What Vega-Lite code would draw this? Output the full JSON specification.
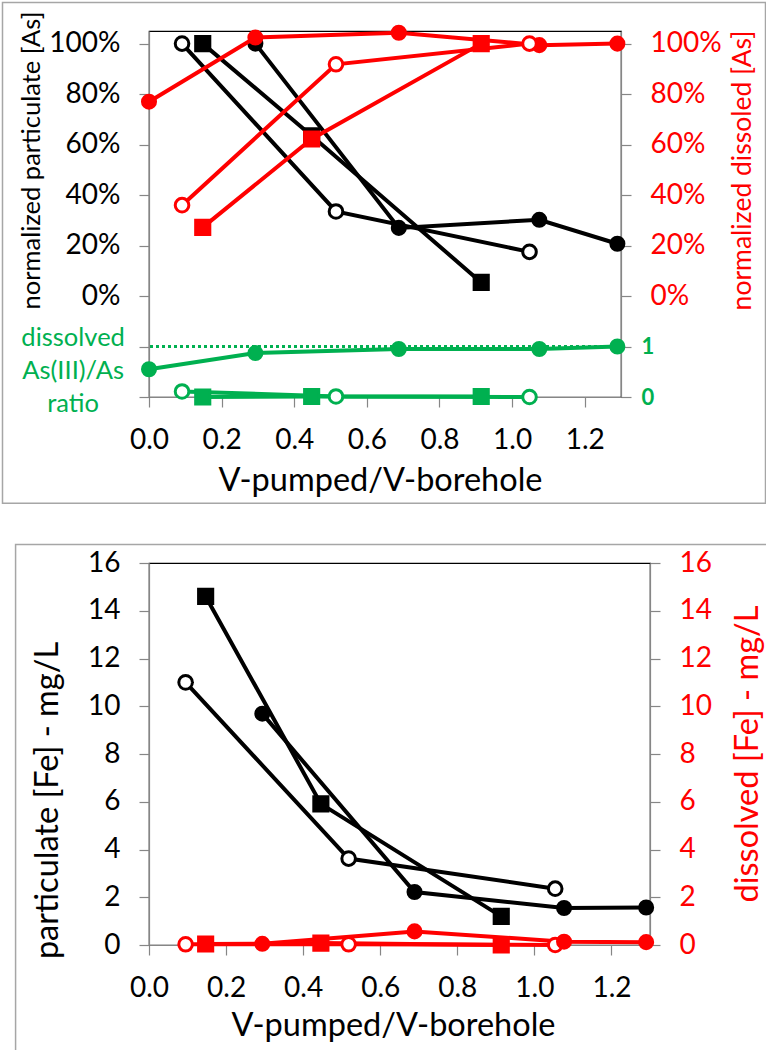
{
  "$schema": "https://vega.github.io/schema/vega-lite/v6.json",
  "padding": {"left": 1, "top": 1, "right": 0, "bottom": 0},
  "background": "white",
  "config": {
    "font": "Lato",
    "view": {"stroke": "#000000", "strokeWidth": 1.2},
    "axis": {"grid": false, "domainColor": "#868686", "tickColor": "#868686", "domainWidth": 1.2, "tickWidth": 1.2, "tickSize": 10, "labelFont": "Lato", "labelFontSize": 28, "labelColor": "#000000", "labelPadding": 19, "titleFont": "Lato", "titleFontWeight": "normal", "labelFlush": false, "labelOverlap": false}
  },
  "datasets": {
    "top": [
      {"x": 0, "m": "filled", "part": null, "diss": 77, "ratio": 0.55},
      {"x": 0.293, "m": "filled", "part": 100, "diss": 102.4, "ratio": 0.87},
      {"x": 0.688, "m": "filled", "part": 27, "diss": 104.3, "ratio": 0.95},
      {"x": 1.075, "m": "filled", "part": 30.2, "diss": 99.4, "ratio": 0.95},
      {"x": 1.29, "m": "filled", "part": 20.7, "diss": 100, "ratio": 1.0},
      {"x": 0.091, "m": "open", "part": 100, "diss": 36, "ratio": 0.11},
      {"x": 0.515, "m": "open", "part": 33.5, "diss": 91.8, "ratio": 0.01},
      {"x": 1.048, "m": "open", "part": 17.5, "diss": 100, "ratio": 0.0},
      {"x": 0.148, "m": "square", "part": 100, "diss": 27.2, "ratio": 0.0},
      {"x": 0.448, "m": "square", "part": 63.5, "diss": 62.2, "ratio": 0.01},
      {"x": 0.915, "m": "square", "part": 5.4, "diss": 100, "ratio": 0.01}
    ],
    "bottom": [
      {"x": 0.095, "m": "open", "part": 11.0, "diss": 0.03},
      {"x": 0.518, "m": "open", "part": 3.62, "diss": 0.03},
      {"x": 1.054, "m": "open", "part": 2.36, "diss": 0.0},
      {"x": 0.147, "m": "square", "part": 14.6, "diss": 0.04},
      {"x": 0.446, "m": "square", "part": 5.91, "diss": 0.08},
      {"x": 0.914, "m": "square", "part": 1.2, "diss": 0.0},
      {"x": 0.294, "m": "filled", "part": 9.69, "diss": 0.05},
      {"x": 0.689, "m": "filled", "part": 2.22, "diss": 0.57},
      {"x": 1.077, "m": "filled", "part": 1.55, "diss": 0.14},
      {"x": 1.29, "m": "filled", "part": 1.57, "diss": 0.12}
    ]
  },
  "spacing": 38,
  "vconcat": [
    {
      "width": 472,
      "height": 366,
      "data": {"name": "top"},
      "layer": [
        {
          "layer": [
            {
              "data": {"values": [{"frame": "panel"}]},
              "mark": {"type": "rect", "fill": "white", "fillOpacity": 0, "stroke": "#a6a6a6", "strokeWidth": 1.5, "clip": false},
              "encoding": {
                "x": {"datum": -0.4035, "type": "quantitative", "scale": {"domain": [0, 1.3], "nice": false, "zero": false}, "title": "V-pumped/V-borehole", "axis": {"values": [0, 0.2, 0.4, 0.6, 0.8, 1, 1.2], "format": ".1f", "titleFontSize": 32.5, "titleX": 231, "titleY": 83, "titleBaseline": "middle", "titleAlign": "center"}},
                "x2": {"datum": 1.698},
                "y": {"datum": 116.3, "type": "quantitative", "scale": {"domain": [-40, 105], "nice": false, "zero": false}, "title": "normalized particulate [As]", "axis": {"orient": "left", "values": [-40, -20, 0, 20, 40, 60, 80, 100], "labelExpr": "datum.value >= 0 ? datum.value + '%' : ''", "titleFontSize": 25.5, "titleAngle": 270, "titleX": -118, "titleY": 129, "titleBaseline": "middle", "titleAlign": "center", "titleColor": "#000000"}},
                "y2": {"datum": -82.1}
              }
            },
            {
              "mark": {"type": "line", "color": "#000000", "strokeWidth": 4},
              "encoding": {
                "x": {"field": "x", "type": "quantitative", "scale": {"domain": [0, 1.3], "nice": false, "zero": false}, "title": "V-pumped/V-borehole", "axis": {"values": [0, 0.2, 0.4, 0.6, 0.8, 1, 1.2], "format": ".1f", "titleFontSize": 32.5, "titleX": 231, "titleY": 83, "titleBaseline": "middle", "titleAlign": "center"}},
                "y": {"field": "part", "type": "quantitative", "scale": {"domain": [-40, 105], "nice": false, "zero": false}, "title": "normalized particulate [As]", "axis": {"orient": "left", "values": [-40, -20, 0, 20, 40, 60, 80, 100], "labelExpr": "datum.value >= 0 ? datum.value + '%' : ''", "titleFontSize": 25.5, "titleAngle": 270, "titleX": -118, "titleY": 129, "titleBaseline": "middle", "titleAlign": "center", "titleColor": "#000000"}},
                "detail": {"field": "m"},
                "order": {"field": "x", "type": "quantitative"}
              }
            },
            {
              "mark": {"type": "point", "strokeWidth": 3, "opacity": 1, "filled": true},
              "encoding": {
                "x": {"field": "x", "type": "quantitative", "scale": {"domain": [0, 1.3], "nice": false, "zero": false}, "title": "V-pumped/V-borehole", "axis": {"values": [0, 0.2, 0.4, 0.6, 0.8, 1, 1.2], "format": ".1f", "titleFontSize": 32.5, "titleX": 231, "titleY": 83, "titleBaseline": "middle", "titleAlign": "center"}},
                "y": {"field": "part", "type": "quantitative", "scale": {"domain": [-40, 105], "nice": false, "zero": false}, "title": "normalized particulate [As]", "axis": {"orient": "left", "values": [-40, -20, 0, 20, 40, 60, 80, 100], "labelExpr": "datum.value >= 0 ? datum.value + '%' : ''", "titleFontSize": 25.5, "titleAngle": 270, "titleX": -118, "titleY": 129, "titleBaseline": "middle", "titleAlign": "center", "titleColor": "#000000"}},
                "shape": {"field": "m", "type": "nominal", "scale": {"domain": ["filled", "open", "square"], "range": ["circle", "circle", "square"]}, "legend": null},
                "size": {"field": "m", "type": "nominal", "scale": {"domain": ["filled", "open", "square"], "range": [170, 200, 180]}, "legend": null},
                "fill": {"condition": {"test": "datum.m === 'open'", "value": "#ffffff"}, "value": "#000000"},
                "stroke": {"value": "#000000"}
              }
            },
            {
              "data": {"values": [{"label": "dissolved\nAs(III)/As\nratio"}]},
              "mark": {"type": "text", "color": "#00b050", "fontSize": 25.5, "lineBreak": "\n", "lineHeight": 33, "align": "center", "baseline": "middle", "clip": false},
              "encoding": {
                "x": {"datum": -0.209, "type": "quantitative", "scale": {"domain": [0, 1.3], "nice": false, "zero": false}, "title": "V-pumped/V-borehole", "axis": {"values": [0, 0.2, 0.4, 0.6, 0.8, 1, 1.2], "format": ".1f", "titleFontSize": 32.5, "titleX": 231, "titleY": 83, "titleBaseline": "middle", "titleAlign": "center"}},
                "y": {"datum": -16.6, "type": "quantitative", "scale": {"domain": [-40, 105], "nice": false, "zero": false}, "title": "normalized particulate [As]", "axis": {"orient": "left", "values": [-40, -20, 0, 20, 40, 60, 80, 100], "labelExpr": "datum.value >= 0 ? datum.value + '%' : ''", "titleFontSize": 25.5, "titleAngle": 270, "titleX": -118, "titleY": 129, "titleBaseline": "middle", "titleAlign": "center", "titleColor": "#000000"}},
                "text": {"field": "label"}
              }
            }
          ]
        },
        {
          "layer": [
            {
              "mark": {"type": "line", "color": "#ff0000", "strokeWidth": 4},
              "encoding": {
                "x": {"field": "x", "type": "quantitative", "scale": {"domain": [0, 1.3], "nice": false, "zero": false}, "title": "V-pumped/V-borehole", "axis": {"values": [0, 0.2, 0.4, 0.6, 0.8, 1, 1.2], "format": ".1f", "titleFontSize": 32.5, "titleX": 231, "titleY": 83, "titleBaseline": "middle", "titleAlign": "center"}},
                "y": {"field": "diss", "type": "quantitative", "scale": {"domain": [-40, 105], "nice": false, "zero": false}, "title": "normalized dissoled [As]", "axis": {"orient": "right", "values": [-40, -20, 0, 20, 40, 60, 80, 100], "labelExpr": "datum.value >= 0 ? datum.value + '%' : (datum.value == -20 ? '1' : '0')", "labelColor": {"condition": {"test": "datum.value < 0", "value": "#00b050"}, "value": "#ff0000"}, "labelFontWeight": {"condition": {"test": "datum.value < 0", "value": "bold"}, "value": "normal"}, "labelFontSize": {"condition": {"test": "datum.value < 0", "value": 22}, "value": 28}, "labelPadding": {"condition": {"test": "datum.value < 0", "value": 10}, "value": 19}, "titleColor": "#ff0000", "titleFontSize": 26.5, "titleAngle": 270, "titleX": 121.7, "titleY": 139, "titleBaseline": "middle", "titleAlign": "center"}},
                "detail": {"field": "m"},
                "order": {"field": "x", "type": "quantitative"}
              }
            },
            {
              "mark": {"type": "point", "strokeWidth": 3, "opacity": 1, "filled": true},
              "encoding": {
                "x": {"field": "x", "type": "quantitative", "scale": {"domain": [0, 1.3], "nice": false, "zero": false}, "title": "V-pumped/V-borehole", "axis": {"values": [0, 0.2, 0.4, 0.6, 0.8, 1, 1.2], "format": ".1f", "titleFontSize": 32.5, "titleX": 231, "titleY": 83, "titleBaseline": "middle", "titleAlign": "center"}},
                "y": {"field": "diss", "type": "quantitative", "scale": {"domain": [-40, 105], "nice": false, "zero": false}, "title": "normalized dissoled [As]", "axis": {"orient": "right", "values": [-40, -20, 0, 20, 40, 60, 80, 100], "labelExpr": "datum.value >= 0 ? datum.value + '%' : (datum.value == -20 ? '1' : '0')", "labelColor": {"condition": {"test": "datum.value < 0", "value": "#00b050"}, "value": "#ff0000"}, "labelFontWeight": {"condition": {"test": "datum.value < 0", "value": "bold"}, "value": "normal"}, "labelFontSize": {"condition": {"test": "datum.value < 0", "value": 22}, "value": 28}, "labelPadding": {"condition": {"test": "datum.value < 0", "value": 10}, "value": 19}, "titleColor": "#ff0000", "titleFontSize": 26.5, "titleAngle": 270, "titleX": 121.7, "titleY": 139, "titleBaseline": "middle", "titleAlign": "center"}},
                "shape": {"field": "m", "type": "nominal", "scale": {"domain": ["filled", "open", "square"], "range": ["circle", "circle", "square"]}, "legend": null},
                "size": {"field": "m", "type": "nominal", "scale": {"domain": ["filled", "open", "square"], "range": [170, 200, 180]}, "legend": null},
                "fill": {"condition": {"test": "datum.m === 'open'", "value": "#ffffff"}, "value": "#ff0000"},
                "stroke": {"value": "#ff0000"}
              }
            }
          ]
        },
        {
          "layer": [
            {
              "data": {"values": [{"level": "one"}]},
              "mark": {"type": "rule", "color": "#00b050", "strokeWidth": 3, "strokeDash": [3, 3]},
              "encoding": {
                "y": {"datum": 1, "type": "quantitative", "scale": {"domain": [0, 7.25], "nice": false, "zero": false}, "axis": null}
              }
            },
            {
              "mark": {"type": "line", "color": "#00b050", "strokeWidth": 4},
              "encoding": {
                "x": {"field": "x", "type": "quantitative", "scale": {"domain": [0, 1.3], "nice": false, "zero": false}, "title": "V-pumped/V-borehole", "axis": {"values": [0, 0.2, 0.4, 0.6, 0.8, 1, 1.2], "format": ".1f", "titleFontSize": 32.5, "titleX": 231, "titleY": 83, "titleBaseline": "middle", "titleAlign": "center"}},
                "y": {"field": "ratio", "type": "quantitative", "scale": {"domain": [0, 7.25], "nice": false, "zero": false}, "axis": null},
                "detail": {"field": "m"},
                "order": {"field": "x", "type": "quantitative"}
              }
            },
            {
              "mark": {"type": "point", "strokeWidth": 3, "opacity": 1, "filled": true},
              "encoding": {
                "x": {"field": "x", "type": "quantitative", "scale": {"domain": [0, 1.3], "nice": false, "zero": false}, "title": "V-pumped/V-borehole", "axis": {"values": [0, 0.2, 0.4, 0.6, 0.8, 1, 1.2], "format": ".1f", "titleFontSize": 32.5, "titleX": 231, "titleY": 83, "titleBaseline": "middle", "titleAlign": "center"}},
                "y": {"field": "ratio", "type": "quantitative", "scale": {"domain": [0, 7.25], "nice": false, "zero": false}, "axis": null},
                "shape": {"field": "m", "type": "nominal", "scale": {"domain": ["filled", "open", "square"], "range": ["circle", "circle", "square"]}, "legend": null},
                "size": {"field": "m", "type": "nominal", "scale": {"domain": ["filled", "open", "square"], "range": [170, 200, 180]}, "legend": null},
                "fill": {"condition": {"test": "datum.m === 'open'", "value": "#ffffff"}, "value": "#00b050"},
                "stroke": {"value": "#00b050"}
              }
            }
          ]
        }
      ],
      "resolve": {"scale": {"y": "independent"}}
    },
    {
      "width": 501,
      "height": 382,
      "data": {"name": "bottom"},
      "layer": [
        {
          "layer": [
            {
              "data": {"values": [{"frame": "panel"}]},
              "mark": {"type": "rect", "fill": "white", "fillOpacity": 0, "stroke": "#a6a6a6", "strokeWidth": 1.5, "clip": false},
              "encoding": {
                "x": {"datum": -0.3462, "type": "quantitative", "scale": {"domain": [0, 1.3], "nice": false, "zero": false}, "title": "V-pumped/V-borehole", "axis": {"values": [0, 0.2, 0.4, 0.6, 0.8, 1, 1.2], "format": ".1f", "titleFontSize": 32.5, "titleX": 244, "titleY": 80, "titleBaseline": "middle", "titleAlign": "center"}},
                "x2": {"datum": 1.6312},
                "y": {"datum": 16.78, "type": "quantitative", "scale": {"domain": [0, 16], "nice": false, "zero": false}, "title": "particulate [Fe] - mg/L", "axis": {"orient": "left", "values": [0, 2, 4, 6, 8, 10, 12, 14, 16], "titleFontSize": 32.5, "titleAngle": 270, "titleX": -102, "titleY": 237, "titleBaseline": "middle", "titleAlign": "center", "titleColor": "#000000"}},
                "y2": {"datum": -4.498}
              }
            },
            {
              "mark": {"type": "line", "color": "#000000", "strokeWidth": 4},
              "encoding": {
                "x": {"field": "x", "type": "quantitative", "scale": {"domain": [0, 1.3], "nice": false, "zero": false}, "title": "V-pumped/V-borehole", "axis": {"values": [0, 0.2, 0.4, 0.6, 0.8, 1, 1.2], "format": ".1f", "titleFontSize": 32.5, "titleX": 244, "titleY": 80, "titleBaseline": "middle", "titleAlign": "center"}},
                "y": {"field": "part", "type": "quantitative", "scale": {"domain": [0, 16], "nice": false, "zero": false}, "title": "particulate [Fe] - mg/L", "axis": {"orient": "left", "values": [0, 2, 4, 6, 8, 10, 12, 14, 16], "titleFontSize": 32.5, "titleAngle": 270, "titleX": -102, "titleY": 237, "titleBaseline": "middle", "titleAlign": "center", "titleColor": "#000000"}},
                "detail": {"field": "m"},
                "order": {"field": "x", "type": "quantitative"}
              }
            },
            {
              "mark": {"type": "point", "strokeWidth": 3, "opacity": 1, "filled": true},
              "encoding": {
                "x": {"field": "x", "type": "quantitative", "scale": {"domain": [0, 1.3], "nice": false, "zero": false}, "title": "V-pumped/V-borehole", "axis": {"values": [0, 0.2, 0.4, 0.6, 0.8, 1, 1.2], "format": ".1f", "titleFontSize": 32.5, "titleX": 244, "titleY": 80, "titleBaseline": "middle", "titleAlign": "center"}},
                "y": {"field": "part", "type": "quantitative", "scale": {"domain": [0, 16], "nice": false, "zero": false}, "title": "particulate [Fe] - mg/L", "axis": {"orient": "left", "values": [0, 2, 4, 6, 8, 10, 12, 14, 16], "titleFontSize": 32.5, "titleAngle": 270, "titleX": -102, "titleY": 237, "titleBaseline": "middle", "titleAlign": "center", "titleColor": "#000000"}},
                "shape": {"field": "m", "type": "nominal", "scale": {"domain": ["filled", "open", "square"], "range": ["circle", "circle", "square"]}, "legend": null},
                "size": {"field": "m", "type": "nominal", "scale": {"domain": ["filled", "open", "square"], "range": [170, 200, 180]}, "legend": null},
                "fill": {"condition": {"test": "datum.m === 'open'", "value": "#ffffff"}, "value": "#000000"},
                "stroke": {"value": "#000000"}
              }
            }
          ]
        },
        {
          "layer": [
            {
              "mark": {"type": "line", "color": "#ff0000", "strokeWidth": 4},
              "encoding": {
                "x": {"field": "x", "type": "quantitative", "scale": {"domain": [0, 1.3], "nice": false, "zero": false}, "title": "V-pumped/V-borehole", "axis": {"values": [0, 0.2, 0.4, 0.6, 0.8, 1, 1.2], "format": ".1f", "titleFontSize": 32.5, "titleX": 244, "titleY": 80, "titleBaseline": "middle", "titleAlign": "center"}},
                "y": {"field": "diss", "type": "quantitative", "scale": {"domain": [0, 16], "nice": false, "zero": false}, "title": "dissolved [Fe] - mg/L", "axis": {"orient": "right", "values": [0, 2, 4, 6, 8, 10, 12, 14, 16], "labelColor": "#ff0000", "titleColor": "#ff0000", "titleFontSize": 32.5, "titleAngle": 270, "titleX": 97.7, "titleY": 190.5, "titleBaseline": "middle", "titleAlign": "center"}},
                "detail": {"field": "m"},
                "order": {"field": "x", "type": "quantitative"}
              }
            },
            {
              "mark": {"type": "point", "strokeWidth": 3, "opacity": 1, "filled": true},
              "encoding": {
                "x": {"field": "x", "type": "quantitative", "scale": {"domain": [0, 1.3], "nice": false, "zero": false}, "title": "V-pumped/V-borehole", "axis": {"values": [0, 0.2, 0.4, 0.6, 0.8, 1, 1.2], "format": ".1f", "titleFontSize": 32.5, "titleX": 244, "titleY": 80, "titleBaseline": "middle", "titleAlign": "center"}},
                "y": {"field": "diss", "type": "quantitative", "scale": {"domain": [0, 16], "nice": false, "zero": false}, "title": "dissolved [Fe] - mg/L", "axis": {"orient": "right", "values": [0, 2, 4, 6, 8, 10, 12, 14, 16], "labelColor": "#ff0000", "titleColor": "#ff0000", "titleFontSize": 32.5, "titleAngle": 270, "titleX": 97.7, "titleY": 190.5, "titleBaseline": "middle", "titleAlign": "center"}},
                "shape": {"field": "m", "type": "nominal", "scale": {"domain": ["filled", "open", "square"], "range": ["circle", "circle", "square"]}, "legend": null},
                "size": {"field": "m", "type": "nominal", "scale": {"domain": ["filled", "open", "square"], "range": [170, 200, 180]}, "legend": null},
                "fill": {"condition": {"test": "datum.m === 'open'", "value": "#ffffff"}, "value": "#ff0000"},
                "stroke": {"value": "#ff0000"}
              }
            }
          ]
        }
      ],
      "resolve": {"scale": {"y": "independent"}}
    }
  ]
}
